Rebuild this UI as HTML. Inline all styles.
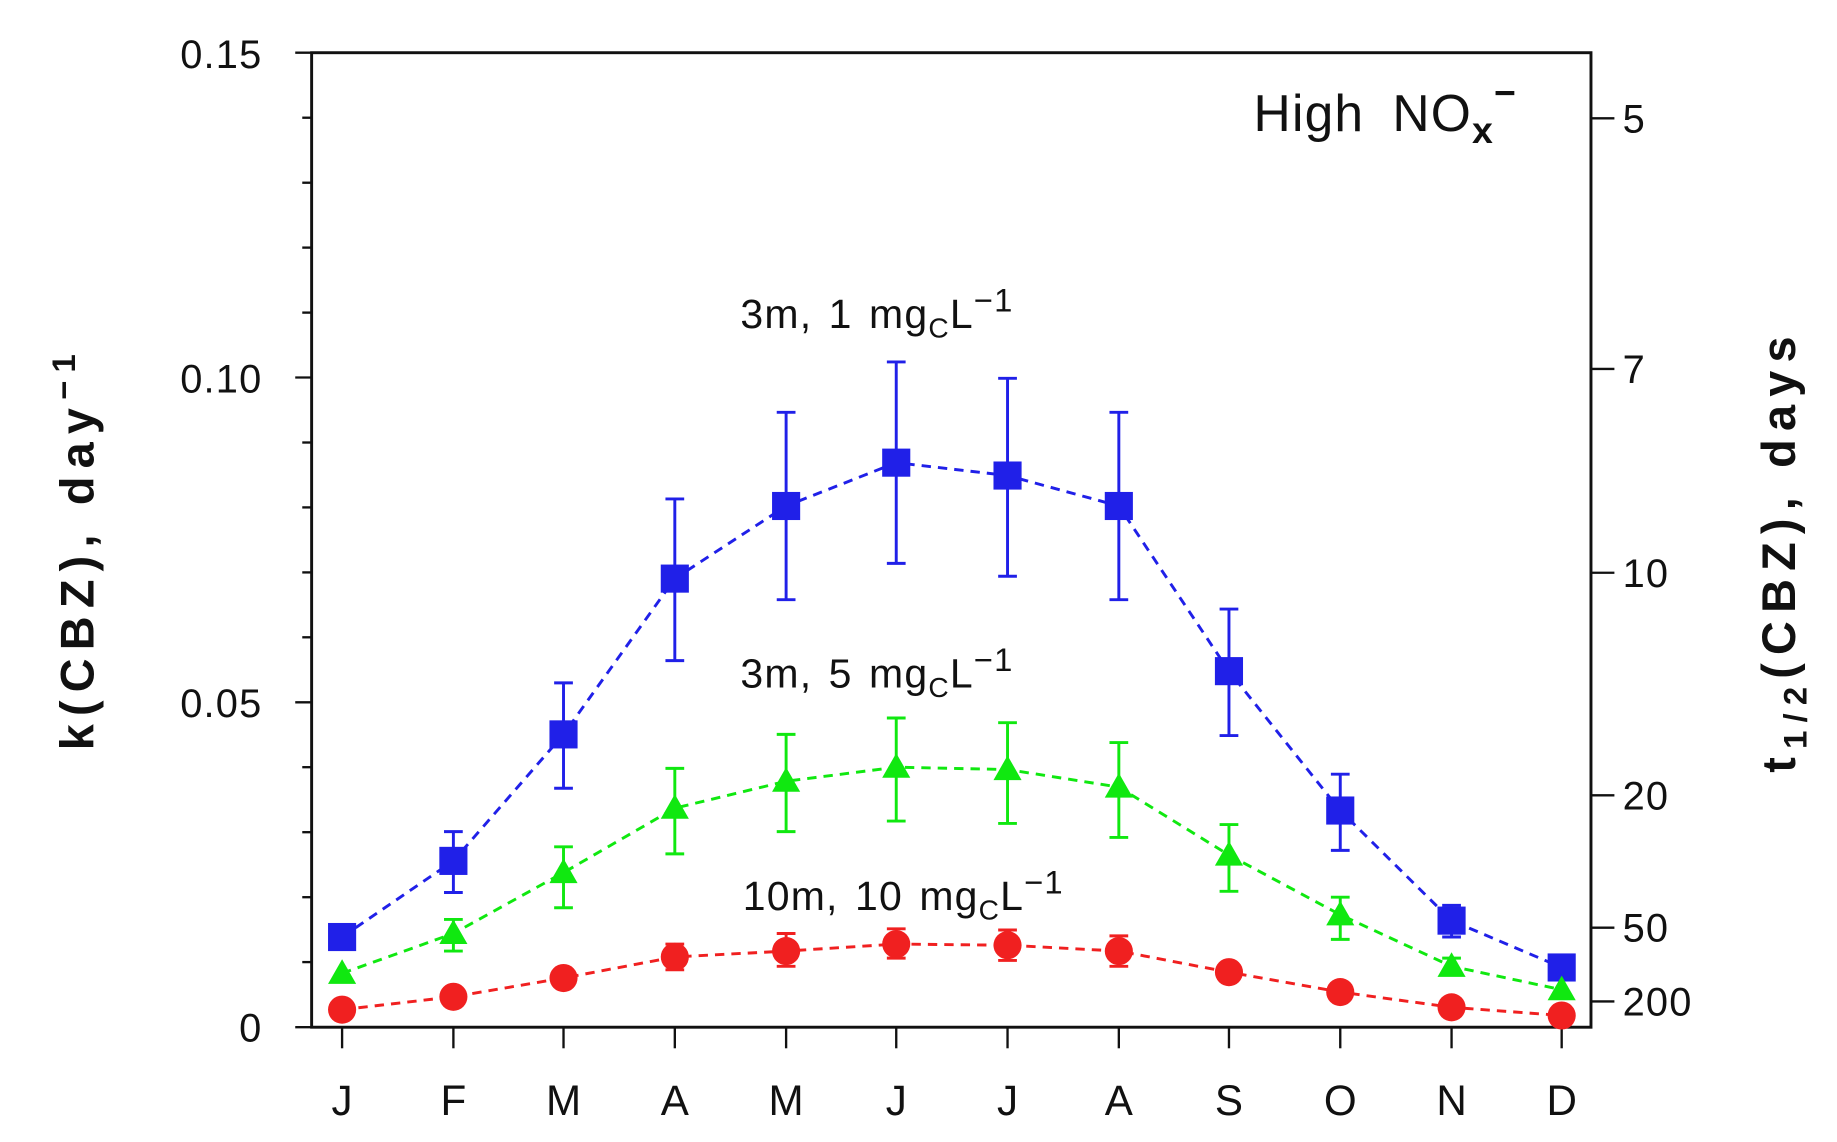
<!DOCTYPE html>
<html><head><style>html,body{margin:0;padding:0;background:#fff}svg{display:block}</style></head>
<body>
<svg width="1837" height="1142" viewBox="0 0 1568 975" preserveAspectRatio="none" xmlns="http://www.w3.org/2000/svg" font-family="Liberation Sans, sans-serif">
<rect width="1568" height="975" fill="#fff"/>
<rect x="266" y="45" width="1092" height="832" fill="none" stroke="#111" stroke-width="2.5"/>
<g stroke="#111" stroke-width="2">
<line x1="252" y1="45" x2="266" y2="45"/><line x1="258" y1="100.5" x2="266" y2="100.5"/><line x1="258" y1="156" x2="266" y2="156"/><line x1="258" y1="211.4" x2="266" y2="211.4"/><line x1="258" y1="266.9" x2="266" y2="266.9"/>
<line x1="252" y1="322.3" x2="266" y2="322.3"/><line x1="258" y1="377.8" x2="266" y2="377.8"/><line x1="258" y1="433.2" x2="266" y2="433.2"/><line x1="258" y1="488.7" x2="266" y2="488.7"/><line x1="258" y1="544.1" x2="266" y2="544.1"/>
<line x1="252" y1="599.6" x2="266" y2="599.6"/><line x1="258" y1="655" x2="266" y2="655"/><line x1="258" y1="710.5" x2="266" y2="710.5"/><line x1="258" y1="766" x2="266" y2="766"/><line x1="258" y1="821.4" x2="266" y2="821.4"/><line x1="252" y1="877" x2="266" y2="877"/>
<line x1="1358" y1="101" x2="1378" y2="101"/><line x1="1358" y1="315" x2="1378" y2="315"/><line x1="1358" y1="489" x2="1378" y2="489"/><line x1="1358" y1="679" x2="1378" y2="679"/><line x1="1358" y1="792" x2="1378" y2="792"/><line x1="1358" y1="855" x2="1378" y2="855"/>
<line x1="292" y1="877" x2="292" y2="895"/><line x1="387" y1="877" x2="387" y2="895"/><line x1="481" y1="877" x2="481" y2="895"/><line x1="576" y1="877" x2="576" y2="895"/><line x1="671" y1="877" x2="671" y2="895"/><line x1="765" y1="877" x2="765" y2="895"/><line x1="860" y1="877" x2="860" y2="895"/><line x1="955" y1="877" x2="955" y2="895"/><line x1="1049" y1="877" x2="1049" y2="895"/><line x1="1144" y1="877" x2="1144" y2="895"/><line x1="1239" y1="877" x2="1239" y2="895"/><line x1="1333" y1="877" x2="1333" y2="895"/>
</g>
<g font-size="34" fill="#111" text-anchor="end" letter-spacing="1">
<text x="224" y="58">0.15</text><text x="224" y="335">0.10</text><text x="224" y="612">0.05</text><text x="224" y="889">0</text>
</g>
<g font-size="34" fill="#111" letter-spacing="1">
<text x="1385" y="113">5</text><text x="1385" y="327">7</text><text x="1385" y="501">10</text><text x="1385" y="691">20</text><text x="1385" y="804">50</text><text x="1385" y="867">200</text>
</g>
<g font-size="36" fill="#111" text-anchor="middle">
<text x="292" y="952">J</text><text x="387" y="952">F</text><text x="481" y="952">M</text><text x="576" y="952">A</text><text x="671" y="952">M</text><text x="765" y="952">J</text><text x="860" y="952">J</text><text x="955" y="952">A</text><text x="1049" y="952">S</text><text x="1144" y="952">O</text><text x="1239" y="952">N</text><text x="1333" y="952">D</text>
</g>
<text transform="translate(80,468) rotate(-90)" font-size="40" font-weight="bold" fill="#111" text-anchor="middle" letter-spacing="7">k(CBZ), day<tspan dy="-16" font-size="28">−1</tspan></text>
<text transform="translate(1532,470) rotate(-90)" font-size="40" font-weight="bold" fill="#111" text-anchor="middle" letter-spacing="7">t<tspan dy="10" font-size="28">1/2</tspan><tspan dy="-10">(CBZ), days</tspan></text>
<text x="1070" y="112" font-size="44" fill="#111" letter-spacing="1">High<tspan dx="24">NO</tspan><tspan dy="10" font-size="32" font-weight="bold">x</tspan><tspan dy="-32" font-size="32" font-weight="bold">−</tspan></text>
<g font-size="35" fill="#111" letter-spacing="1">
<text x="632" y="280">3m,<tspan dx="14">1</tspan><tspan dx="14">mg</tspan><tspan dy="8" font-size="24">C</tspan><tspan dy="-8">L</tspan><tspan dy="-14" font-size="28">−1</tspan></text>
<text x="632" y="587">3m,<tspan dx="14">5</tspan><tspan dx="14">mg</tspan><tspan dy="8" font-size="24">C</tspan><tspan dy="-8">L</tspan><tspan dy="-14" font-size="28">−1</tspan></text>
<text x="634" y="777">10m,<tspan dx="14">10</tspan><tspan dx="14">mg</tspan><tspan dy="8" font-size="24">C</tspan><tspan dy="-8">L</tspan><tspan dy="-14" font-size="28">−1</tspan></text>
</g>
<g stroke="#2020e8" stroke-width="2.5" fill="none">
<path d="M292,800 L387,735 L481,627 L576,494 L671,432 L765,395 L860,406 L955,432 L1049,573 L1144,692 L1239,786 L1333,826" stroke-dasharray="8,6"/>
<path d="M387,710V762M379,710H395M379,762H395 M481,583V673M473,583H489M473,673H489 M576,426V564M568,426H584M568,564H584 M671,352V512M663,352H679M663,512H679 M765,309V481M757,309H773M757,481H773 M860,323V492M852,323H868M852,492H868 M955,352V512M947,352H963M947,512H963 M1049,520V628M1041,520H1057M1041,628H1057 M1144,661V726M1136,661H1152M1136,726H1152 M1239,773V800M1231,773H1247M1231,800H1247"/>
</g>
<g fill="#2020e8">
<rect x="280" y="788" width="24" height="24"/><rect x="375" y="723" width="24" height="24"/><rect x="469" y="615" width="24" height="24"/><rect x="564" y="482" width="24" height="24"/><rect x="659" y="420" width="24" height="24"/><rect x="753" y="383" width="24" height="24"/><rect x="848" y="394" width="24" height="24"/><rect x="943" y="420" width="24" height="24"/><rect x="1037" y="561" width="24" height="24"/><rect x="1132" y="680" width="24" height="24"/><rect x="1227" y="774" width="24" height="24"/><rect x="1321" y="814" width="24" height="24"/>
</g>
<g stroke="#10e810" stroke-width="2.5" fill="none">
<path d="M292,831 L387,797 L481,745 L576,690 L671,667 L765,655 L860,657 L955,672 L1049,730 L1144,781 L1239,825 L1333,845" stroke-dasharray="8,6"/>
<path d="M387,785V812M379,785H395M379,812H395 M481,723V775M473,723H489M473,775H489 M576,656V729M568,656H584M568,729H584 M671,627V710M663,627H679M663,710H679 M765,613V701M757,613H773M757,701H773 M860,617V703M852,617H868M852,703H868 M955,634V715M947,634H963M947,715H963 M1049,704V761M1041,704H1057M1041,761H1057 M1144,766V802M1136,766H1152M1136,802H1152 M1239,818V832M1231,818H1247M1231,832H1247"/>
</g>
<g fill="#10e810">
<path d="M292,819l12,21h-24z M387,785l12,21h-24z M481,733l12,21h-24z M576,678l12,21h-24z M671,655l12,21h-24z M765,643l12,21h-24z M860,645l12,21h-24z M955,660l12,21h-24z M1049,718l12,21h-24z M1144,769l12,21h-24z M1239,813l12,21h-24z M1333,833l12,21h-24z"/>
</g>
<g stroke="#f02020" stroke-width="2.5" fill="none">
<path d="M292,862 L387,851 L481,835 L576,817 L671,812 L765,806 L860,807 L955,812 L1049,830 L1144,847 L1239,860 L1333,867" stroke-dasharray="8,6"/>
<path d="M576,806V828M568,806H584M568,828H584 M671,797V825M663,797H679M663,825H679 M765,793V818M757,793H773M757,818H773 M860,794V820M852,794H868M852,820H868 M955,799V825M947,799H963M947,825H963"/>
</g>
<g fill="#f02020">
<circle cx="292" cy="862" r="12"/><circle cx="387" cy="851" r="12"/><circle cx="481" cy="835" r="12"/><circle cx="576" cy="817" r="12"/><circle cx="671" cy="812" r="12"/><circle cx="765" cy="806" r="12"/><circle cx="860" cy="807" r="12"/><circle cx="955" cy="812" r="12"/><circle cx="1049" cy="830" r="12"/><circle cx="1144" cy="847" r="12"/><circle cx="1239" cy="860" r="12"/><circle cx="1333" cy="867" r="12"/>
</g>
</svg>
</body></html>
